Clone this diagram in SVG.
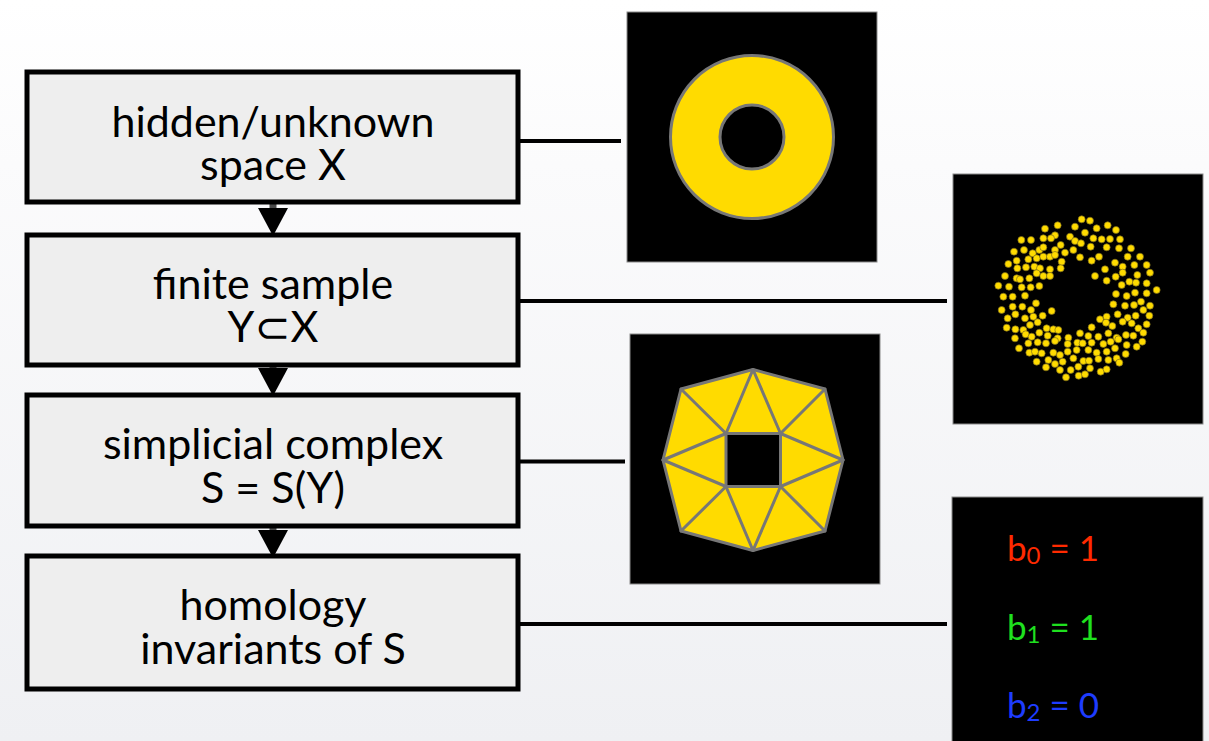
<svg xmlns="http://www.w3.org/2000/svg" width="1209" height="741" viewBox="0 0 1209 741">
  <defs>
    <linearGradient id="bg" x1="0" y1="0" x2="0" y2="1">
      <stop offset="0" stop-color="#ffffff"/>
      <stop offset="0.22" stop-color="#fbfbfc"/>
      <stop offset="1" stop-color="#eff0f3"/>
    </linearGradient>
    <marker id="head" markerUnits="userSpaceOnUse" viewBox="0 -16 30 32" refX="0" refY="0" markerWidth="30" markerHeight="32" orient="auto">
      <path d="M0,-15 L28,0 L0,15 Z" fill="#000"/>
    </marker>
    <style>
      .box { fill: #eeeeee; stroke: #000; stroke-width: 5; }
      .label { font-family: Lato, "Open Sans", "DejaVu Sans", sans-serif; font-size: 43px; fill: #000; text-anchor: middle; }
      .link { stroke: #000; stroke-width: 4; fill: none; }
      .stem { stroke: #4a4a4a; stroke-width: 7; fill: none; }
      .panel { fill: #000; stroke: #8a8a8a; stroke-width: 1; }
      .shape { fill: #ffdb00; stroke: #777; stroke-width: 3; stroke-linejoin: round; }
      .edge { stroke: #777; stroke-width: 3; stroke-linecap: round; }
      .dot { fill: #ffdb00; stroke: #7a6a1a; stroke-width: 2; }
      .betti { font-family: Lato, "Open Sans", "DejaVu Sans", sans-serif; font-size: 35px; }
      .sub { font-size: 24px; }
    </style>
  </defs>

  <rect x="0" y="0" width="1209" height="741" fill="url(#bg)"/>

  <!-- connectors: pipeline arrows and links to the illustrations -->
  <g id="connectors">
    <line class="stem" x1="273" y1="194" x2="273" y2="208" marker-end="url(#head)"/>
    <line class="stem" x1="273" y1="357" x2="273" y2="368" marker-end="url(#head)"/>
    <line class="stem" x1="273" y1="518" x2="273" y2="530" marker-end="url(#head)"/>
    <line class="link" x1="520" y1="141" x2="621" y2="141"/>
    <line class="link" x1="520" y1="301" x2="947" y2="301"/>
    <line class="link" x1="520" y1="461.5" x2="625" y2="461.5"/>
    <line class="link" x1="520" y1="624" x2="947" y2="624"/>
  </g>

  <g id="node-space">
    <rect class="box" x="27" y="72" width="491" height="130"/>
    <text class="label" x="273" y="137">hidden/unknown<tspan x="273" dy="43">space X</tspan></text>
  </g>

  <g id="node-sample">
    <rect class="box" x="27" y="235" width="491" height="130"/>
    <text class="label" x="273" y="299">finite sample<tspan x="273" dy="43">Y⊂X</tspan></text>
  </g>

  <g id="node-complex">
    <rect class="box" x="27" y="395" width="491" height="131"/>
    <text class="label" x="273" y="459">simplicial complex<tspan x="273" dy="44">S = S(Y)</tspan></text>
  </g>

  <g id="node-homology">
    <rect class="box" x="27" y="556" width="491" height="133"/>
    <text class="label" x="273" y="620">homology<tspan x="273" dy="44">invariants of S</tspan></text>
  </g>

  <!-- annulus -->
  <g id="panel-annulus">
    <rect class="panel" x="627" y="12" width="250" height="250"/>
    <path class="shape" fill-rule="evenodd" d="M670.5,137 a81.5,81.5 0 1,0 163,0 a81.5,81.5 0 1,0 -163,0 Z M720,137 a32,32 0 1,0 64,0 a32,32 0 1,0 -64,0 Z"/>
  </g>

  <!-- point cloud sampled from the annulus -->
  <g id="panel-sample">
    <rect class="panel" x="953" y="174" width="250" height="250"/>
    <g transform="translate(940,170) scale(0.33333)">
      <circle class="dot" cx="425" cy="148" r="10.5"/><circle class="dot" cx="450" cy="152" r="10.5"/>
      <circle class="dot" cx="353" cy="166" r="10.5"/><circle class="dot" cx="315" cy="176" r="10.5"/><circle class="dot" cx="405" cy="170" r="10.5"/><circle class="dot" cx="470" cy="175" r="10.5"/><circle class="dot" cx="503" cy="166" r="10.5"/><circle class="dot" cx="528" cy="180" r="10.5"/><circle class="dot" cx="435" cy="188" r="10.5"/>
      <circle class="dot" cx="345" cy="196" r="10.5"/><circle class="dot" cx="310" cy="205" r="10.5"/><circle class="dot" cx="333" cy="205" r="10.5"/><circle class="dot" cx="390" cy="200" r="10.5"/><circle class="dot" cx="405" cy="213" r="10.5"/><circle class="dot" cx="423" cy="220" r="10.5"/><circle class="dot" cx="460" cy="205" r="10.5"/><circle class="dot" cx="485" cy="208" r="10.5"/><circle class="dot" cx="510" cy="207" r="10.5"/><circle class="dot" cx="540" cy="208" r="10.5"/><circle class="dot" cx="244" cy="210" r="10.5"/><circle class="dot" cx="273" cy="210" r="10.5"/>
      <circle class="dot" cx="222" cy="245" r="10.5"/><circle class="dot" cx="252" cy="240" r="10.5"/><circle class="dot" cx="278" cy="250" r="10.5"/><circle class="dot" cx="298" cy="240" r="10.5"/><circle class="dot" cx="310" cy="232" r="10.5"/><circle class="dot" cx="345" cy="240" r="10.5"/><circle class="dot" cx="362" cy="225" r="10.5"/><circle class="dot" cx="375" cy="248" r="10.5"/><circle class="dot" cx="400" cy="240" r="10.5"/><circle class="dot" cx="452" cy="230" r="10.5"/><circle class="dot" cx="500" cy="232" r="10.5"/><circle class="dot" cx="537" cy="235" r="10.5"/><circle class="dot" cx="573" cy="235" r="10.5"/>
      <circle class="dot" cx="230" cy="272" r="10.5"/><circle class="dot" cx="265" cy="268" r="10.5"/><circle class="dot" cx="290" cy="265" r="10.5"/><circle class="dot" cx="310" cy="260" r="10.5"/><circle class="dot" cx="330" cy="260" r="10.5"/><circle class="dot" cx="345" cy="255" r="10.5"/><circle class="dot" cx="365" cy="275" r="10.5"/><circle class="dot" cx="420" cy="262" r="10.5"/><circle class="dot" cx="455" cy="272" r="10.5"/><circle class="dot" cx="477" cy="260" r="10.5"/><circle class="dot" cx="525" cy="278" r="10.5"/><circle class="dot" cx="563" cy="260" r="10.5"/><circle class="dot" cx="600" cy="260" r="10.5"/>
      <circle class="dot" cx="205" cy="282" r="10.5"/><circle class="dot" cx="232" cy="295" r="10.5"/><circle class="dot" cx="258" cy="292" r="10.5"/><circle class="dot" cx="283" cy="290" r="10.5"/><circle class="dot" cx="300" cy="295" r="10.5"/><circle class="dot" cx="330" cy="298" r="10.5"/><circle class="dot" cx="362" cy="295" r="10.5"/><circle class="dot" cx="495" cy="298" r="10.5"/><circle class="dot" cx="548" cy="290" r="10.5"/><circle class="dot" cx="583" cy="285" r="10.5"/><circle class="dot" cx="620" cy="285" r="10.5"/>
      <circle class="dot" cx="195" cy="318" r="10.5"/><circle class="dot" cx="230" cy="325" r="10.5"/><circle class="dot" cx="240" cy="328" r="10.5"/><circle class="dot" cx="268" cy="325" r="10.5"/><circle class="dot" cx="290" cy="310" r="10.5"/><circle class="dot" cx="310" cy="318" r="10.5"/><circle class="dot" cx="330" cy="318" r="10.5"/><circle class="dot" cx="465" cy="318" r="10.5"/><circle class="dot" cx="500" cy="332" r="10.5"/><circle class="dot" cx="527" cy="320" r="10.5"/><circle class="dot" cx="548" cy="308" r="10.5"/><circle class="dot" cx="592" cy="315" r="10.5"/><circle class="dot" cx="630" cy="308" r="10.5"/>
      <circle class="dot" cx="175" cy="347" r="10.5"/><circle class="dot" cx="207" cy="350" r="10.5"/><circle class="dot" cx="245" cy="352" r="10.5"/><circle class="dot" cx="272" cy="352" r="10.5"/><circle class="dot" cx="298" cy="348" r="10.5"/><circle class="dot" cx="545" cy="345" r="10.5"/><circle class="dot" cx="568" cy="335" r="10.5"/><circle class="dot" cx="588" cy="338" r="10.5"/><circle class="dot" cx="620" cy="340" r="10.5"/><circle class="dot" cx="650" cy="360" r="10.5"/>
      <circle class="dot" cx="190" cy="380" r="10.5"/><circle class="dot" cx="218" cy="380" r="10.5"/><circle class="dot" cx="255" cy="377" r="10.5"/><circle class="dot" cx="528" cy="372" r="10.5"/><circle class="dot" cx="560" cy="378" r="10.5"/><circle class="dot" cx="585" cy="368" r="10.5"/><circle class="dot" cx="620" cy="370" r="10.5"/>
      <circle class="dot" cx="185" cy="420" r="10.5"/><circle class="dot" cx="218" cy="410" r="10.5"/><circle class="dot" cx="247" cy="410" r="10.5"/><circle class="dot" cx="288" cy="400" r="10.5"/><circle class="dot" cx="273" cy="420" r="10.5"/><circle class="dot" cx="335" cy="423" r="10.5"/><circle class="dot" cx="520" cy="403" r="10.5"/><circle class="dot" cx="555" cy="407" r="10.5"/><circle class="dot" cx="582" cy="405" r="10.5"/><circle class="dot" cx="603" cy="395" r="10.5"/><circle class="dot" cx="630" cy="407" r="10.5"/><circle class="dot" cx="610" cy="420" r="10.5"/>
      <circle class="dot" cx="203" cy="445" r="10.5"/><circle class="dot" cx="226" cy="433" r="10.5"/><circle class="dot" cx="255" cy="445" r="10.5"/><circle class="dot" cx="280" cy="440" r="10.5"/><circle class="dot" cx="308" cy="437" r="10.5"/><circle class="dot" cx="480" cy="448" r="10.5"/><circle class="dot" cx="500" cy="440" r="10.5"/><circle class="dot" cx="533" cy="433" r="10.5"/><circle class="dot" cx="563" cy="443" r="10.5"/><circle class="dot" cx="587" cy="437" r="10.5"/><circle class="dot" cx="628" cy="437" r="10.5"/><circle class="dot" cx="620" cy="463" r="10.5"/>
      <circle class="dot" cx="200" cy="473" r="10.5"/><circle class="dot" cx="226" cy="478" r="10.5"/><circle class="dot" cx="250" cy="480" r="10.5"/><circle class="dot" cx="270" cy="465" r="10.5"/><circle class="dot" cx="293" cy="457" r="10.5"/><circle class="dot" cx="320" cy="475" r="10.5"/><circle class="dot" cx="340" cy="478" r="10.5"/><circle class="dot" cx="355" cy="480" r="10.5"/><circle class="dot" cx="455" cy="472" r="10.5"/><circle class="dot" cx="498" cy="458" r="10.5"/><circle class="dot" cx="517" cy="468" r="10.5"/><circle class="dot" cx="548" cy="455" r="10.5"/><circle class="dot" cx="575" cy="460" r="10.5"/><circle class="dot" cx="595" cy="475" r="10.5"/><circle class="dot" cx="610" cy="488" r="10.5"/>
      <circle class="dot" cx="225" cy="505" r="10.5"/><circle class="dot" cx="257" cy="493" r="10.5"/><circle class="dot" cx="275" cy="500" r="10.5"/><circle class="dot" cx="298" cy="488" r="10.5"/><circle class="dot" cx="323" cy="497" r="10.5"/><circle class="dot" cx="353" cy="505" r="10.5"/><circle class="dot" cx="385" cy="503" r="10.5"/><circle class="dot" cx="420" cy="490" r="10.5"/><circle class="dot" cx="445" cy="498" r="10.5"/><circle class="dot" cx="475" cy="500" r="10.5"/><circle class="dot" cx="505" cy="490" r="10.5"/><circle class="dot" cx="530" cy="503" r="10.5"/><circle class="dot" cx="558" cy="495" r="10.5"/><circle class="dot" cx="580" cy="497" r="10.5"/>
      <circle class="dot" cx="237" cy="535" r="10.5"/><circle class="dot" cx="265" cy="520" r="10.5"/><circle class="dot" cx="293" cy="517" r="10.5"/><circle class="dot" cx="318" cy="520" r="10.5"/><circle class="dot" cx="345" cy="513" r="10.5"/><circle class="dot" cx="383" cy="522" r="10.5"/><circle class="dot" cx="412" cy="518" r="10.5"/><circle class="dot" cx="428" cy="520" r="10.5"/><circle class="dot" cx="455" cy="518" r="10.5"/><circle class="dot" cx="490" cy="522" r="10.5"/><circle class="dot" cx="512" cy="515" r="10.5"/><circle class="dot" cx="535" cy="508" r="10.5"/><circle class="dot" cx="560" cy="525" r="10.5"/><circle class="dot" cx="590" cy="530" r="10.5"/><circle class="dot" cx="607" cy="515" r="10.5"/>
      <circle class="dot" cx="268" cy="548" r="10.5"/><circle class="dot" cx="285" cy="545" r="10.5"/><circle class="dot" cx="305" cy="550" r="10.5"/><circle class="dot" cx="340" cy="548" r="10.5"/><circle class="dot" cx="360" cy="555" r="10.5"/><circle class="dot" cx="383" cy="545" r="10.5"/><circle class="dot" cx="410" cy="540" r="10.5"/><circle class="dot" cx="445" cy="540" r="10.5"/><circle class="dot" cx="470" cy="548" r="10.5"/><circle class="dot" cx="500" cy="545" r="10.5"/><circle class="dot" cx="525" cy="535" r="10.5"/><circle class="dot" cx="557" cy="552" r="10.5"/>
      <circle class="dot" cx="290" cy="575" r="10.5"/><circle class="dot" cx="325" cy="570" r="10.5"/><circle class="dot" cx="345" cy="582" r="10.5"/><circle class="dot" cx="368" cy="575" r="10.5"/><circle class="dot" cx="400" cy="565" r="10.5"/><circle class="dot" cx="430" cy="573" r="10.5"/><circle class="dot" cx="447" cy="572" r="10.5"/><circle class="dot" cx="475" cy="567" r="10.5"/><circle class="dot" cx="505" cy="570" r="10.5"/><circle class="dot" cx="530" cy="565" r="10.5"/><circle class="dot" cx="538" cy="578" r="10.5"/>
      <circle class="dot" cx="318" cy="592" r="10.5"/><circle class="dot" cx="360" cy="600" r="10.5"/><circle class="dot" cx="392" cy="600" r="10.5"/><circle class="dot" cx="415" cy="590" r="10.5"/><circle class="dot" cx="450" cy="595" r="10.5"/><circle class="dot" cx="482" cy="605" r="10.5"/><circle class="dot" cx="500" cy="598" r="10.5"/>
      <circle class="dot" cx="378" cy="622" r="10.5"/><circle class="dot" cx="416" cy="617" r="10.5"/><circle class="dot" cx="435" cy="613" r="10.5"/>
    </g>
  </g>

  <!-- triangulated octagon with a square hole -->
  <g id="panel-complex">
    <rect class="panel" x="630" y="334" width="250" height="250"/>
    <polygon class="shape" points="753,369.5 825,389 843,460 825,531 753,550.5 681,531 663,460 681,389"/>
    <rect x="726" y="433.5" width="54.5" height="53" fill="#000" stroke="#777" stroke-width="3"/>
    <g class="edge">
      <line x1="753" y1="369.5" x2="726" y2="433.5"/>
      <line x1="753" y1="369.5" x2="780.5" y2="433.5"/>
      <line x1="825" y1="389" x2="780.5" y2="433.5"/>
      <line x1="843" y1="460" x2="780.5" y2="433.5"/>
      <line x1="843" y1="460" x2="780.5" y2="486.5"/>
      <line x1="825" y1="531" x2="780.5" y2="486.5"/>
      <line x1="753" y1="550.5" x2="780.5" y2="486.5"/>
      <line x1="753" y1="550.5" x2="726" y2="486.5"/>
      <line x1="681" y1="531" x2="726" y2="486.5"/>
      <line x1="663" y1="460" x2="726" y2="486.5"/>
      <line x1="663" y1="460" x2="726" y2="433.5"/>
      <line x1="681" y1="389" x2="726" y2="433.5"/>
    </g>
  </g>

  <!-- Betti numbers -->
  <g id="panel-betti">
    <rect class="panel" x="952" y="497" width="251" height="260"/>
    <text class="betti" x="1007" y="561" fill="#ff2a00">b<tspan class="sub" dy="3">0</tspan><tspan dy="-3"> = 1</tspan></text>
    <text class="betti" x="1007" y="640" fill="#1fe01f">b<tspan class="sub" dy="3">1</tspan><tspan dy="-3"> = 1</tspan></text>
    <text class="betti" x="1007" y="718" fill="#1e3cff">b<tspan class="sub" dy="3">2</tspan><tspan dy="-3"> = 0</tspan></text>
  </g>
</svg>
